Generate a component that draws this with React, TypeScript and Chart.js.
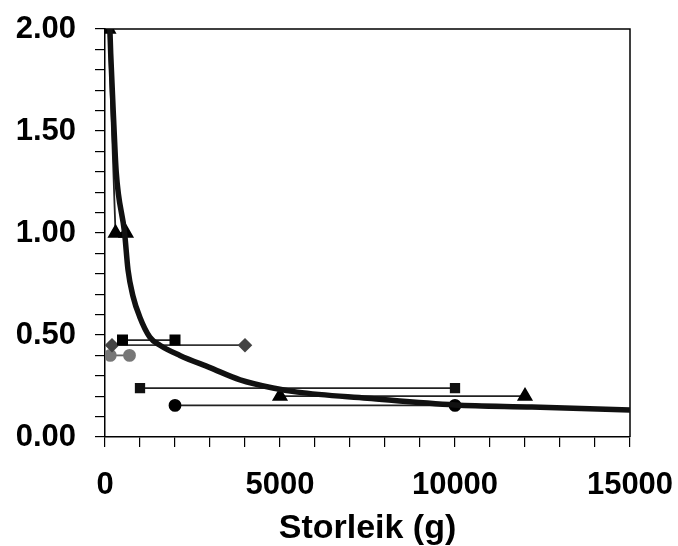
import React, { useEffect, useRef } from "react";
import { Chart, registerables } from "chart.js";

Chart.register(...registerables);

// Fitted curve
const curveX = [140, 163, 248, 320, 560, 657, 800, 990, 1280, 1570, 2140, 3000, 3860, 4800, 5500, 7500, 10000, 12200, 15000];
const curveY = [2.0, 1.88, 1.55, 1.3, 1.0, 0.82, 0.69, 0.59, 0.49, 0.45, 0.4, 0.34, 0.28, 0.24, 0.22, 0.19, 0.157, 0.147, 0.132];

// Study ranges
const triAX = [100, 300, 600];
const triAY = [2.0, 1.0, 1.0];
const triBX = [5000, 12000];
const triBY = [0.2, 0.2];
const sqAX = [500, 2000];
const sqAY = [0.475, 0.475];
const sqBX = [1000, 10000];
const sqBY = [0.24, 0.24];
const diaX = [200, 4000];
const diaY = [0.45, 0.45];
const greyX = [150, 700];
const greyY = [0.4, 0.4];
const circX = [2000, 10000];
const circY = [0.155, 0.155];

const xTickLabels = ["0", "5000", "10000", "15000"];
const yTickLabels = ["0.00", "0.50", "1.00", "1.50", "2.00"];

const pts = (xs: number[], ys: number[]) => xs.map((x, i) => ({ x, y: ys[i] }));

const FONT = "'Liberation Sans', Arial, Helvetica, sans-serif";

export default function App() {
  const ref = useRef<HTMLCanvasElement | null>(null);
  useEffect(() => {
    if (!ref.current) return;
    const seg = (xs: number[], ys: number[], style: string, radius: number, color: string, lineColor: string) => ({
      data: pts(xs, ys),
      borderColor: lineColor,
      backgroundColor: color,
      pointBackgroundColor: color,
      pointBorderColor: color,
      pointStyle: style,
      pointRadius: radius,
      borderWidth: 1.8,
      showLine: true,
      tension: 0,
    });
    const frame = {
      id: "frame",
      beforeDatasetsDraw(chart: any) {
        const { ctx, chartArea } = chart;
        ctx.save();
        ctx.strokeStyle = "#000";
        ctx.lineWidth = 1.5;
        ctx.beginPath();
        ctx.moveTo(chartArea.left, chartArea.top);
        ctx.lineTo(chartArea.right, chartArea.top);
        ctx.lineTo(chartArea.right, chartArea.bottom);
        ctx.stroke();
        ctx.restore();
      },
    };
    const chart = new Chart(ref.current, {
      type: "scatter",
      data: {
        datasets: [
          {
            data: pts(curveX, curveY),
            borderColor: "#111",
            borderWidth: 5.5,
            pointRadius: 0,
            showLine: true,
            cubicInterpolationMode: "monotone",
          } as any,
          seg(triAX, triAY, "triangle", 7.5, "#000", "#222"),
          seg(triBX, triBY, "triangle", 7.5, "#000", "#222"),
          seg(sqAX, sqAY, "rect", 6.5, "#000", "#222"),
          seg(sqBX, sqBY, "rect", 6, "#111", "#222"),
          seg(diaX, diaY, "rectRot", 6, "#444", "#333"),
          seg(greyX, greyY, "circle", 5.5, "#777", "#666"),
          seg(circX, circY, "circle", 5.5, "#000", "#222"),
        ],
      },
      options: {
        animation: false,
        responsive: false,
        devicePixelRatio: 1,
        layout: { padding: { left: 0, top: 29, right: 48, bottom: 0 } },
        plugins: { legend: { display: false }, tooltip: { enabled: false } },
        scales: {
          x: {
            type: "linear",
            min: 0,
            max: 15000,
            afterFit: (s: any) => {
              s.height = 109;
              s.paddingLeft = 0;
              s.paddingRight = 0;
            },
            ticks: {
              stepSize: 1000,
              autoSkip: false,
              maxRotation: 0,
              padding: 20,
              color: "#000",
              font: { family: FONT, size: 31, weight: "bold" },
              callback: (v: any) => {
                const i = Math.round(Number(v) / 5000);
                return Math.abs(Number(v) - i * 5000) < 1e-6 ? xTickLabels[i] : "";
              },
            },
            grid: { drawOnChartArea: false, drawTicks: true, tickLength: 10, color: "#000", lineWidth: 1.2 },
            border: { display: true, color: "#000", width: 1.5 },
            title: {
              display: true,
              text: "Storleik (g)",
              color: "#000",
              font: { family: FONT, size: 34, weight: "bold" },
              padding: { top: 0, bottom: -3 },
            },
          },
          y: {
            type: "linear",
            min: 0,
            max: 2,
            afterFit: (s: any) => {
              s.width = 105;
              s.paddingTop = 0;
              s.paddingBottom = 0;
            },
            ticks: {
              stepSize: 0.1,
              autoSkip: false,
              padding: 19,
              color: "#000",
              font: { family: FONT, size: 31, weight: "bold" },
              callback: (v: any) => {
                const i = Math.round(Number(v) * 2);
                return Math.abs(Number(v) * 2 - i) < 1e-6 ? yTickLabels[i] : "";
              },
            },
            grid: { drawOnChartArea: false, drawTicks: true, tickLength: 10, color: "#000", lineWidth: 1.2 },
            border: { display: true, color: "#000", width: 1.5 },
          },
        },
      },
      plugins: [frame],
    } as any);
    return () => chart.destroy();
  }, []);
  return (
    <div style={{ position: "fixed", left: 0, top: 0, width: 678, height: 546, background: "#fff" }}>
      <canvas ref={ref} width={678} height={546} />
    </div>
  );
}
